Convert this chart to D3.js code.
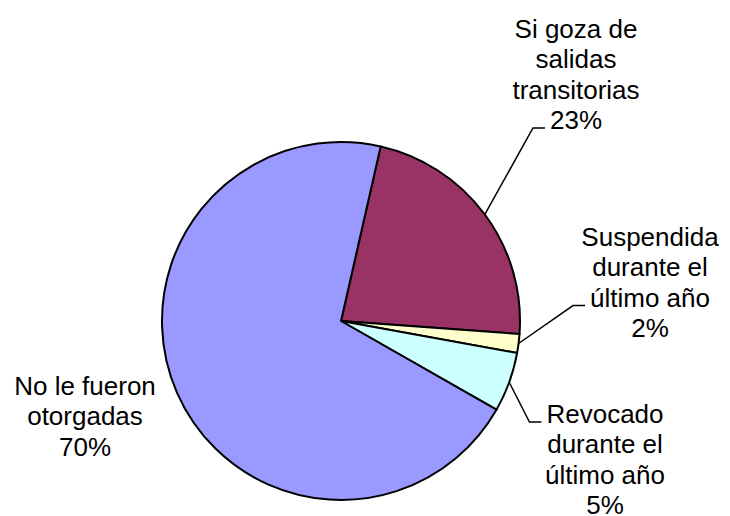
<!DOCTYPE html>
<html>
<head>
<meta charset="utf-8">
<script src="https://cdn.jsdelivr.net/npm/d3@7"></script>
<style>
  body { margin: 0; background: #fff; }
  svg { display: block; }
  text { font-family: "Liberation Sans", Arial, sans-serif; font-size: 26px; fill: #000; }
</style>
</head>
<body>
<svg></svg>
<script>
const width = 730;
const height = 516;

// data
const categories = [
    "Si goza de salidas transitorias",
    "Suspendida durante el último año",
    "Revocado durante el último año",
    "No le fueron otorgadas"
];
const categoryLines = [
    ["Si goza de", "salidas", "transitorias"],
    ["Suspendida", "durante el", "último año"],
    ["Revocado", "durante el", "último año"],
    ["No le fueron", "otorgadas"]
];
const values = [22.6, 1.7, 5.4, 70.3];
const colors = ["#993366", "#FFFFCC", "#CCFFFF", "#9999FF"];

// label layout: text centre, first baseline, which line the leader points at
const labelLayout = [
    { x: 576, y: 38, leader: 3 },
    { x: 650, y: 246, leader: 2 },
    { x: 605, y: 423, leader: 0 },
    { x: 85, y: 395, leader: null }
];
const lineHeight = 30.3;

const cx = 341, cy = 321, radius = 179;
const startAngle = 12.8 * Math.PI / 180;

const svg = d3.select("svg")
    .attr("width", width)
    .attr("height", height);

const total = d3.sum(values);
const pct = d3.format(".0f");

const pie = d3.pie()
    .sort(null)
    .startAngle(startAngle)
    .endAngle(startAngle + 2 * Math.PI);
const arc = d3.arc().innerRadius(0).outerRadius(radius);

const arcs = pie(values);

const g = svg.append("g").attr("transform", `translate(${cx},${cy})`);

g.selectAll("path")
    .data(arcs)
    .enter().append("path")
    .attr("d", arc)
    .attr("fill", (d, i) => colors[i])
    .attr("stroke", "#000")
    .attr("stroke-width", 2)
    .attr("stroke-linejoin", "round");

const labels = svg.append("g").attr("class", "labels");

arcs.forEach((d, i) => {
    const lay = labelLayout[i];
    const lines = categoryLines[i].concat([pct(values[i] / total * 100) + "%"]);
    const t = labels.append("text")
        .attr("text-anchor", "middle");
    const spans = lines.map((ln, k) => t.append("tspan")
        .attr("x", lay.x)
        .attr("y", lay.y + k * lineHeight)
        .text(ln));

    if (lay.leader !== null) {
        const target = spans[lay.leader];
        const w = target.node().getComputedTextLength();
        const endX = lay.x - w / 2 - 5;
        const endY = lay.y + lay.leader * lineHeight - 1;
        const mid = (d.startAngle + d.endAngle) / 2;
        const sx = cx + radius * Math.sin(mid);
        const sy = cy - radius * Math.cos(mid);
        labels.append("polyline")
            .attr("points", `${sx},${sy} ${endX - 12},${endY} ${endX},${endY}`)
            .attr("fill", "none")
            .attr("stroke", "#000")
            .attr("stroke-width", 1.5);
    }
});
</script>
</body>
</html>
